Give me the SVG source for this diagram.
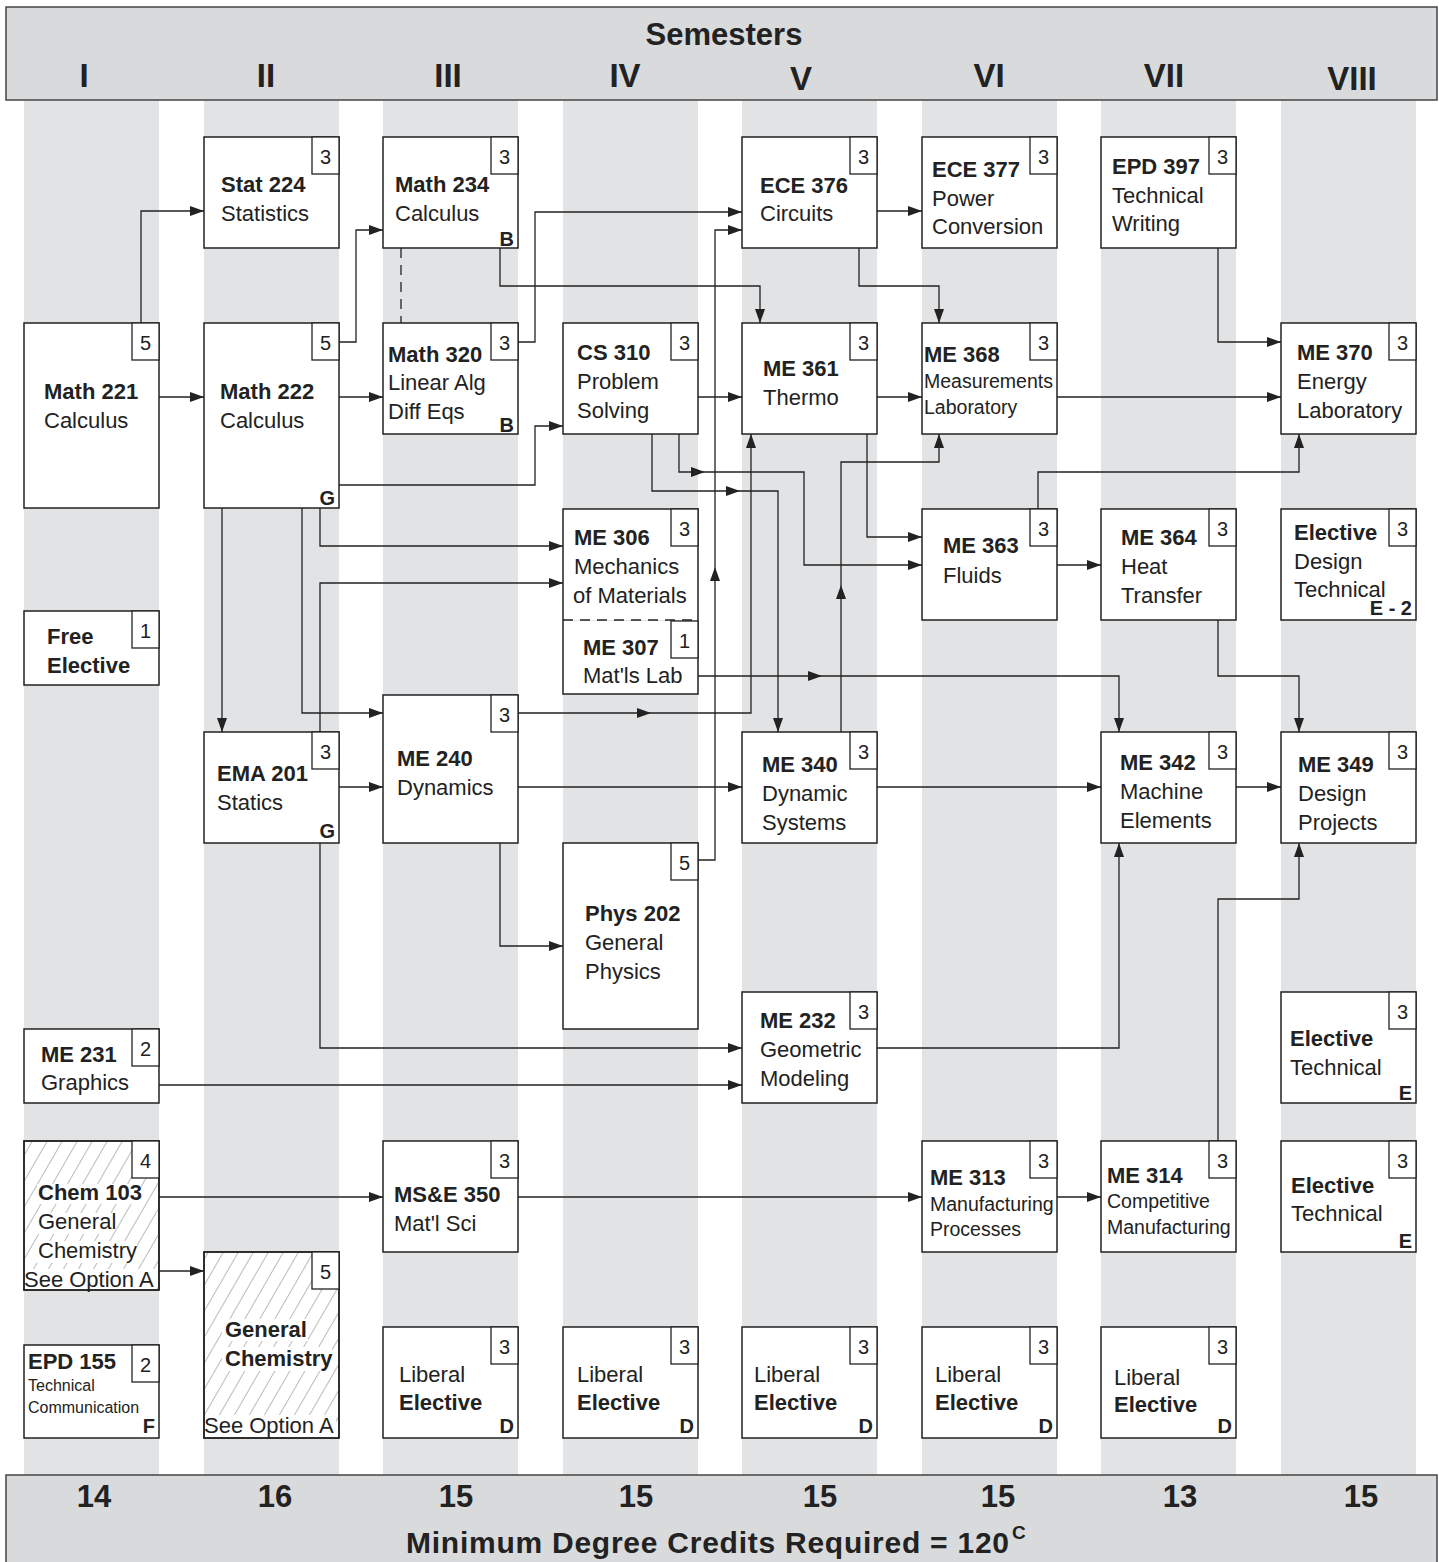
<svg xmlns="http://www.w3.org/2000/svg" xmlns:xlink="http://www.w3.org/1999/xlink" width="1439" height="1562" viewBox="0 0 1439 1562">
<defs>
<style>
text{font-family:"Liberation Sans",Arial,sans-serif;fill:#222;font-size:22px}
.b{font-weight:bold}
.s{font-size:19.5px}
.xs{font-size:16px}
.n{font-size:20px;text-anchor:middle}
.fn{font-size:20px;font-weight:bold;text-anchor:end}
.box{fill:#fff;stroke:#222;stroke-width:1.5}
.outl{fill:none;stroke:#222;stroke-width:1.5}
.cr{fill:#fff;stroke:#222;stroke-width:1.3}
.band{fill:#e2e3e5}
.hdr{fill:#d9dadc;stroke:#444;stroke-width:1.5}
.big{font-weight:bold;text-anchor:middle}
.c{fill:none;stroke:#222;stroke-width:1.3;marker-end:url(#a)}
.d{fill:none;stroke:#222;stroke-width:1.3;stroke-dasharray:10 7}
.wb{fill:#fff}
.hat{fill:url(#h)}
</style>
<marker id="a" markerUnits="userSpaceOnUse" markerWidth="14" markerHeight="10" refX="14" refY="5" orient="auto"><path d="M0,0 L14,5 L0,10 Z" fill="#222"/></marker>
<path id="ma" d="M0,0 L-14,-5 L-14,5 Z" fill="#222"/>
<pattern id="h" patternUnits="userSpaceOnUse" width="13" height="13" patternTransform="rotate(30)"><line x1="0" y1="0" x2="0" y2="13" stroke="#555" stroke-width="0.8"/></pattern>
</defs>
<rect width="1439" height="1562" fill="#fff"/>
<g id="bands">
<rect class="band" x="24" y="100" width="135" height="1375"/>
<rect class="band" x="204" y="100" width="135" height="1375"/>
<rect class="band" x="383" y="100" width="135" height="1375"/>
<rect class="band" x="563" y="100" width="135" height="1375"/>
<rect class="band" x="742" y="100" width="135" height="1375"/>
<rect class="band" x="922" y="100" width="135" height="1375"/>
<rect class="band" x="1101" y="100" width="135" height="1375"/>
<rect class="band" x="1281" y="100" width="135" height="1375"/>
</g>
<g id="header">
<rect class="hdr" x="6" y="7" width="1431" height="93"/>
<text class="big" x="724" y="45" style="font-size:31px">Semesters</text>
<text class="big" x="84" y="87" style="font-size:33px">I</text>
<text class="big" x="266" y="87" style="font-size:33px">II</text>
<text class="big" x="448" y="87" style="font-size:33px">III</text>
<text class="big" x="625" y="87" style="font-size:33px">IV</text>
<text class="big" x="801" y="90" style="font-size:33px">V</text>
<text class="big" x="989" y="87" style="font-size:33px">VI</text>
<text class="big" x="1164" y="87" style="font-size:33px">VII</text>
<text class="big" x="1352" y="90" style="font-size:33px">VIII</text>
</g>
<g id="footer">
<rect class="hdr" x="6" y="1475" width="1431" height="95"/>
<text class="big" x="94" y="1507" style="font-size:31px">14</text>
<text class="big" x="275" y="1507" style="font-size:31px">16</text>
<text class="big" x="456" y="1507" style="font-size:31px">15</text>
<text class="big" x="636" y="1507" style="font-size:31px">15</text>
<text class="big" x="820" y="1507" style="font-size:31px">15</text>
<text class="big" x="998" y="1507" style="font-size:31px">15</text>
<text class="big" x="1180" y="1507" style="font-size:31px">13</text>
<text class="big" x="1361" y="1507" style="font-size:31px">15</text>
<text class="b" x="406" y="1553" style="font-size:30px" textLength="603" lengthAdjust="spacing">Minimum Degree Credits Required = 120</text>
<text class="b" x="1012" y="1539" style="font-size:19px">C</text>
</g>
<g id="connectors">
<path class="c" d="M141,323 V211 H204"/>
<path class="c" d="M159,397 H204"/>
<path class="c" d="M339,342 H356 V230 H383"/>
<path class="c" d="M339,397 H383"/>
<path class="d" d="M401,248 V323"/>
<path class="c" d="M500,248 V286 H760 V323"/>
<path class="c" d="M518,342 H535 V212 H742"/>
<path class="c" d="M339,485 H535 V426 H563"/>
<path class="c" d="M698,860 H715 V230 H742"/>
<use xlink:href="#ma" href="#ma" transform="translate(715,567) rotate(-90)"/>
<path class="c" d="M698,397 H742"/>
<path class="c" d="M679,434 V472 H804 V565 H922"/>
<use xlink:href="#ma" href="#ma" transform="translate(705,472)"/>
<path class="c" d="M652,434 V491 H778 V732"/>
<use xlink:href="#ma" href="#ma" transform="translate(740,491)"/>
<path class="c" d="M877,397 H922"/>
<path class="c" d="M877,211 H922"/>
<path class="c" d="M859,248 V286 H939 V323"/>
<path class="c" d="M867,434 V537 H922"/>
<path class="c" d="M841,732 V462 H939 V434"/>
<use xlink:href="#ma" href="#ma" transform="translate(841,585) rotate(-90)"/>
<path class="c" d="M1057,397 H1281"/>
<path class="c" d="M1218,248 V342 H1281"/>
<path class="c" d="M1038,509 V472 H1299 V434"/>
<path class="c" d="M1057,565 H1101"/>
<path class="c" d="M1218,620 V676 H1299 V732"/>
<path class="c" d="M698,676 H1119 V732"/>
<use xlink:href="#ma" href="#ma" transform="translate(822,676)"/>
<path class="c" d="M518,713 H751 V434"/>
<use xlink:href="#ma" href="#ma" transform="translate(651,713)"/>
<path class="c" d="M518,787 H742"/>
<path class="c" d="M339,787 H383"/>
<path class="c" d="M222,508 V732"/>
<path class="c" d="M302,508 V713 H383"/>
<path class="c" d="M320,508 V546 H563"/>
<path class="c" d="M320,732 V583 H563"/>
<path class="c" d="M320,843 V1048 H742"/>
<path class="c" d="M159,1085 H742"/>
<path class="c" d="M500,843 V946 H563"/>
<path class="c" d="M877,787 H1101"/>
<path class="c" d="M1236,787 H1281"/>
<path class="c" d="M877,1048 H1119 V843"/>
<path class="c" d="M1218,1141 V899 H1299 V843"/>
<path class="c" d="M159,1197 H383"/>
<path class="c" d="M159,1271 H204"/>
<path class="c" d="M518,1197 H922"/>
<path class="c" d="M1057,1197 H1101"/>
</g>
<g id="math221"><rect class="box" x="24" y="323" width="135" height="185"/><rect class="cr" x="132" y="323" width="27" height="37"/><text class="n" x="145.5" y="350">5</text><text class="b" x="44" y="399">Math 221</text><text x="44" y="428">Calculus</text></g>
<g id="free-elective"><rect class="box" x="24" y="611" width="135" height="74"/><rect class="cr" x="132" y="611" width="27" height="37"/><text class="n" x="145.5" y="638">1</text><text class="b" x="47" y="644">Free</text><text class="b" x="47" y="673">Elective</text></g>
<g id="me231"><rect class="box" x="24" y="1029" width="135" height="74"/><rect class="cr" x="132" y="1029" width="27" height="37"/><text class="n" x="145.5" y="1056">2</text><text class="b" x="41" y="1062">ME 231</text><text x="41" y="1090">Graphics</text></g>
<g id="chem103"><rect class="box" x="24" y="1141" width="135" height="149"/><rect class="hat" x="24" y="1141" width="135" height="149"/><rect class="wb" x="37" y="1184" width="104" height="20"/><rect class="wb" x="37" y="1213" width="74" height="21"/><rect class="wb" x="37" y="1241" width="100" height="22"/><rect class="wb" x="25" y="1269" width="131" height="20"/><rect class="outl" x="24" y="1141" width="135" height="149"/><rect class="cr" x="132" y="1141" width="27" height="37"/><text class="n" x="145.5" y="1168">4</text><text class="b" x="38" y="1200">Chem 103</text><text x="38" y="1229">General</text><text x="38" y="1258">Chemistry</text><text x="24" y="1287">See Option A</text></g>
<g id="epd155"><rect class="box" x="24" y="1345" width="135" height="93"/><rect class="cr" x="132" y="1345" width="27" height="37"/><text class="n" x="145.5" y="1372">2</text><text class="b" x="28" y="1369">EPD 155</text><text class="xs" x="28" y="1391">Technical</text><text class="xs" x="28" y="1413">Communication</text><text class="fn" x="155" y="1433">F</text></g>
<g id="stat224"><rect class="box" x="204" y="137" width="135" height="111"/><rect class="cr" x="312" y="137" width="27" height="37"/><text class="n" x="325.5" y="164">3</text><text class="b" x="221" y="192">Stat 224</text><text x="221" y="221">Statistics</text></g>
<g id="math222"><rect class="box" x="204" y="323" width="135" height="185"/><rect class="cr" x="312" y="323" width="27" height="37"/><text class="n" x="325.5" y="350">5</text><text class="b" x="220" y="399">Math 222</text><text x="220" y="428">Calculus</text><text class="fn" x="335" y="505">G</text></g>
<g id="ema201"><rect class="box" x="204" y="732" width="135" height="111"/><rect class="cr" x="312" y="732" width="27" height="37"/><text class="n" x="325.5" y="759">3</text><text class="b" x="217" y="781">EMA 201</text><text x="217" y="810">Statics</text><text class="fn" x="335" y="838">G</text></g>
<g id="general-chemistry"><rect class="box" x="204" y="1252" width="135" height="186"/><rect class="hat" x="204" y="1252" width="135" height="186"/><rect class="wb" x="222" y="1319" width="86" height="22"/><rect class="wb" x="222" y="1347" width="110" height="24"/><rect class="wb" x="205" y="1415" width="131" height="22"/><rect class="outl" x="204" y="1252" width="135" height="186"/><rect class="cr" x="312" y="1252" width="27" height="37"/><text class="n" x="325.5" y="1279">5</text><text class="b" x="225" y="1337">General</text><text class="b" x="225" y="1366">Chemistry</text><text x="204" y="1433">See Option A</text></g>
<g id="math234"><rect class="box" x="383" y="137" width="135" height="111"/><rect class="cr" x="491" y="137" width="27" height="37"/><text class="n" x="504.5" y="164">3</text><text class="b" x="395" y="192">Math 234</text><text x="395" y="221">Calculus</text><text class="fn" x="514" y="246">B</text></g>
<g id="math320"><rect class="box" x="383" y="323" width="135" height="111"/><rect class="cr" x="491" y="323" width="27" height="37"/><text class="n" x="504.5" y="350">3</text><text class="b" x="388" y="362">Math 320</text><text x="388" y="390">Linear Alg</text><text x="388" y="419">Diff Eqs</text><text class="fn" x="514" y="432">B</text></g>
<g id="me240"><rect class="box" x="383" y="695" width="135" height="148"/><rect class="cr" x="491" y="695" width="27" height="37"/><text class="n" x="504.5" y="722">3</text><text class="b" x="397" y="766">ME 240</text><text x="397" y="795">Dynamics</text></g>
<g id="mse350"><rect class="box" x="383" y="1141" width="135" height="111"/><rect class="cr" x="491" y="1141" width="27" height="37"/><text class="n" x="504.5" y="1168">3</text><text class="b" x="394" y="1202">MS&amp;E 350</text><text x="394" y="1231">Mat'l Sci</text></g>
<g id="liberal3"><rect class="box" x="383" y="1327" width="135" height="111"/><rect class="cr" x="491" y="1327" width="27" height="37"/><text class="n" x="504.5" y="1354">3</text><text x="399" y="1382">Liberal</text><text class="b" x="399" y="1410">Elective</text><text class="fn" x="514" y="1433">D</text></g>
<g id="cs310"><rect class="box" x="563" y="323" width="135" height="111"/><rect class="cr" x="671" y="323" width="27" height="37"/><text class="n" x="684.5" y="350">3</text><text class="b" x="577" y="360">CS 310</text><text x="577" y="389">Problem</text><text x="577" y="418">Solving</text></g>
<g id="me306"><rect x="563" y="509" width="135" height="111" fill="#fff"/><path d="M563,620 V509 H698 V620" fill="none" stroke="#222" stroke-width="1.5"/><path class="d" d="M563,620 H698"/><rect class="cr" x="671" y="509" width="27" height="37"/><text class="n" x="684.5" y="536">3</text><text class="b" x="574" y="545">ME 306</text><text x="574" y="574">Mechanics</text><text x="573" y="603">of Materials</text></g>
<g id="me307"><rect x="563" y="621" width="135" height="73" fill="#fff"/><path d="M563,620 V694 H698 V620" fill="none" stroke="#222" stroke-width="1.5"/><rect class="cr" x="671" y="621" width="27" height="37"/><text class="n" x="684.5" y="648">1</text><text class="b" x="583" y="655">ME 307</text><text x="583" y="683">Mat'ls Lab</text></g>
<g id="phys202"><rect class="box" x="563" y="843" width="135" height="186"/><rect class="cr" x="671" y="843" width="27" height="37"/><text class="n" x="684.5" y="870">5</text><text class="b" x="585" y="921">Phys 202</text><text x="585" y="950">General</text><text x="585" y="979">Physics</text></g>
<g id="liberal4"><rect class="box" x="563" y="1327" width="135" height="111"/><rect class="cr" x="671" y="1327" width="27" height="37"/><text class="n" x="684.5" y="1354">3</text><text x="577" y="1382">Liberal</text><text class="b" x="577" y="1410">Elective</text><text class="fn" x="694" y="1433">D</text></g>
<g id="ece376"><rect class="box" x="742" y="137" width="135" height="111"/><rect class="cr" x="850" y="137" width="27" height="37"/><text class="n" x="863.5" y="164">3</text><text class="b" x="760" y="193">ECE 376</text><text x="760" y="221">Circuits</text></g>
<g id="me361"><rect class="box" x="742" y="323" width="135" height="111"/><rect class="cr" x="850" y="323" width="27" height="37"/><text class="n" x="863.5" y="350">3</text><text class="b" x="763" y="376">ME 361</text><text x="763" y="405">Thermo</text></g>
<g id="me340"><rect class="box" x="742" y="732" width="135" height="111"/><rect class="cr" x="850" y="732" width="27" height="37"/><text class="n" x="863.5" y="759">3</text><text class="b" x="762" y="772">ME 340</text><text x="762" y="801">Dynamic</text><text x="762" y="830">Systems</text></g>
<g id="me232"><rect class="box" x="742" y="992" width="135" height="111"/><rect class="cr" x="850" y="992" width="27" height="37"/><text class="n" x="863.5" y="1019">3</text><text class="b" x="760" y="1028">ME 232</text><text x="760" y="1057">Geometric</text><text x="760" y="1086">Modeling</text></g>
<g id="liberal5"><rect class="box" x="742" y="1327" width="135" height="111"/><rect class="cr" x="850" y="1327" width="27" height="37"/><text class="n" x="863.5" y="1354">3</text><text x="754" y="1382">Liberal</text><text class="b" x="754" y="1410">Elective</text><text class="fn" x="873" y="1433">D</text></g>
<g id="ece377"><rect class="box" x="922" y="137" width="135" height="111"/><rect class="cr" x="1030" y="137" width="27" height="37"/><text class="n" x="1043.5" y="164">3</text><text class="b" x="932" y="177">ECE 377</text><text x="932" y="206">Power</text><text x="932" y="234">Conversion</text></g>
<g id="me368"><rect class="box" x="922" y="323" width="135" height="111"/><rect class="cr" x="1030" y="323" width="27" height="37"/><text class="n" x="1043.5" y="350">3</text><text class="b" x="924" y="362">ME 368</text><text class="s" x="924" y="388">Measurements</text><text class="s" x="924" y="414">Laboratory</text></g>
<g id="me363"><rect class="box" x="922" y="509" width="135" height="111"/><rect class="cr" x="1030" y="509" width="27" height="37"/><text class="n" x="1043.5" y="536">3</text><text class="b" x="943" y="553">ME 363</text><text x="943" y="583">Fluids</text></g>
<g id="me313"><rect class="box" x="922" y="1141" width="135" height="111"/><rect class="cr" x="1030" y="1141" width="27" height="37"/><text class="n" x="1043.5" y="1168">3</text><text class="b" x="930" y="1185">ME 313</text><text class="s" x="930" y="1211">Manufacturing</text><text class="s" x="930" y="1236">Processes</text></g>
<g id="liberal6"><rect class="box" x="922" y="1327" width="135" height="111"/><rect class="cr" x="1030" y="1327" width="27" height="37"/><text class="n" x="1043.5" y="1354">3</text><text x="935" y="1382">Liberal</text><text class="b" x="935" y="1410">Elective</text><text class="fn" x="1053" y="1433">D</text></g>
<g id="epd397"><rect class="box" x="1101" y="137" width="135" height="111"/><rect class="cr" x="1209" y="137" width="27" height="37"/><text class="n" x="1222.5" y="164">3</text><text class="b" x="1112" y="174">EPD 397</text><text x="1112" y="203">Technical</text><text x="1112" y="231">Writing</text></g>
<g id="me364"><rect class="box" x="1101" y="509" width="135" height="111"/><rect class="cr" x="1209" y="509" width="27" height="37"/><text class="n" x="1222.5" y="536">3</text><text class="b" x="1121" y="545">ME 364</text><text x="1121" y="574">Heat</text><text x="1121" y="603">Transfer</text></g>
<g id="me342"><rect class="box" x="1101" y="732" width="135" height="111"/><rect class="cr" x="1209" y="732" width="27" height="37"/><text class="n" x="1222.5" y="759">3</text><text class="b" x="1120" y="770">ME 342</text><text x="1120" y="799">Machine</text><text x="1120" y="828">Elements</text></g>
<g id="me314"><rect class="box" x="1101" y="1141" width="135" height="111"/><rect class="cr" x="1209" y="1141" width="27" height="37"/><text class="n" x="1222.5" y="1168">3</text><text class="b" x="1107" y="1183">ME 314</text><text class="s" x="1107" y="1208">Competitive</text><text class="s" x="1107" y="1234">Manufacturing</text></g>
<g id="liberal7"><rect class="box" x="1101" y="1327" width="135" height="111"/><rect class="cr" x="1209" y="1327" width="27" height="37"/><text class="n" x="1222.5" y="1354">3</text><text x="1114" y="1385">Liberal</text><text class="b" x="1114" y="1412">Elective</text><text class="fn" x="1232" y="1433">D</text></g>
<g id="me370"><rect class="box" x="1281" y="323" width="135" height="111"/><rect class="cr" x="1389" y="323" width="27" height="37"/><text class="n" x="1402.5" y="350">3</text><text class="b" x="1297" y="360">ME 370</text><text x="1297" y="389">Energy</text><text x="1297" y="418">Laboratory</text></g>
<g id="elective-design"><rect class="box" x="1281" y="509" width="135" height="111"/><rect class="cr" x="1389" y="509" width="27" height="37"/><text class="n" x="1402.5" y="536">3</text><text class="b" x="1294" y="540">Elective</text><text x="1294" y="569">Design</text><text x="1294" y="597">Technical</text><text class="fn" x="1412" y="615">E - 2</text></g>
<g id="me349"><rect class="box" x="1281" y="732" width="135" height="111"/><rect class="cr" x="1389" y="732" width="27" height="37"/><text class="n" x="1402.5" y="759">3</text><text class="b" x="1298" y="772">ME 349</text><text x="1298" y="801">Design</text><text x="1298" y="830">Projects</text></g>
<g id="elective-tech1"><rect class="box" x="1281" y="992" width="135" height="111"/><rect class="cr" x="1389" y="992" width="27" height="37"/><text class="n" x="1402.5" y="1019">3</text><text class="b" x="1290" y="1046">Elective</text><text x="1290" y="1075">Technical</text><text class="fn" x="1412" y="1100">E</text></g>
<g id="elective-tech2"><rect class="box" x="1281" y="1141" width="135" height="111"/><rect class="cr" x="1389" y="1141" width="27" height="37"/><text class="n" x="1402.5" y="1168">3</text><text class="b" x="1291" y="1193">Elective</text><text x="1291" y="1221">Technical</text><text class="fn" x="1412" y="1248">E</text></g>
</svg>
